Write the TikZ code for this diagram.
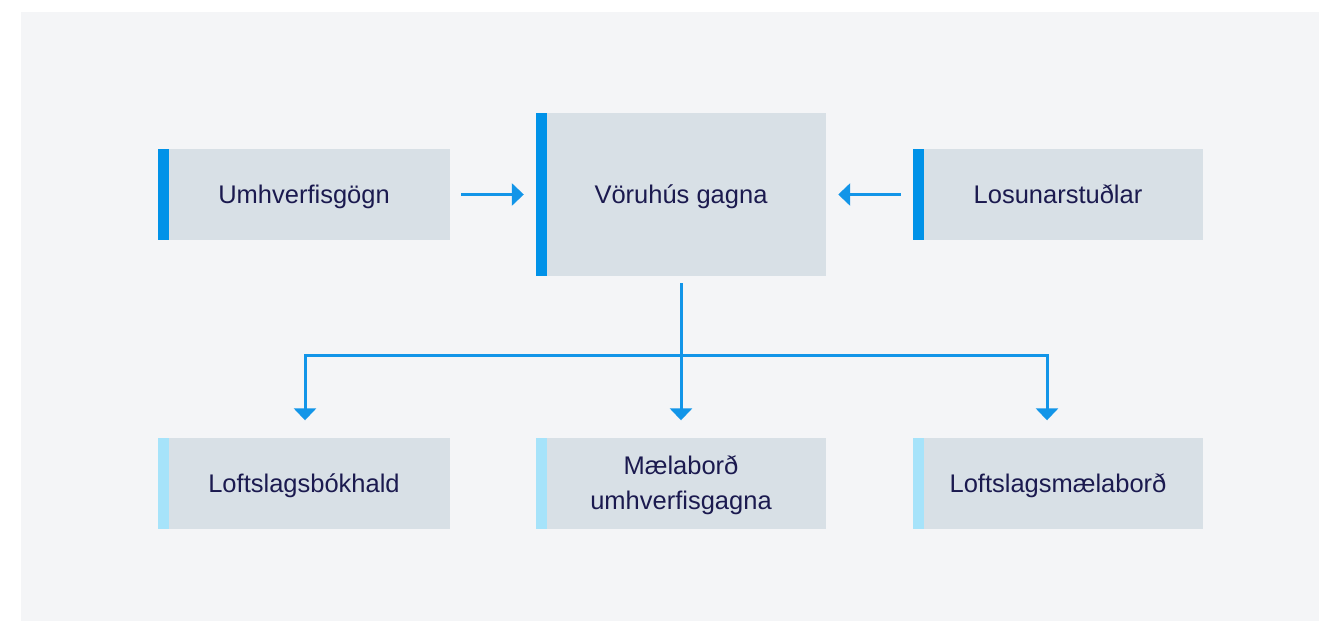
\documentclass[tikz,border=0pt]{standalone}
\usepackage{fontspec}
\setmainfont{Liberation Sans}
\usetikzlibrary{arrows.meta}
\definecolor{bgcol}{HTML}{F4F5F7}
\definecolor{boxcol}{HTML}{D8E0E6}
\definecolor{barblue}{HTML}{0092E8}
\definecolor{barlight}{HTML}{A6E3FA}
\definecolor{linecol}{HTML}{1295E8}
\definecolor{txtcol}{HTML}{1B1A4F}
\tikzset{
  box/.style={fill=boxcol, inner sep=0pt, minimum width=#1, text=txtcol, align=center,
    text height=18pt, text depth=0pt,
    font=\fontsize{25.5}{35}\selectfont},
  box/.default=290pt,
  topbar/.style={path picture={\fill[barblue] (path picture bounding box.north west) rectangle ([xshift=10.5pt]path picture bounding box.south west);}},
  lowbar/.style={path picture={\fill[barlight] (path picture bounding box.north west) rectangle ([xshift=10.5pt]path picture bounding box.south west);}},
  conn/.style={draw=linecol, line width=3pt, line join=miter},
  arr/.style={conn, -{Triangle[length=12pt,width=22pt]}},
}
\begin{document}
\begin{tikzpicture}[x=1pt,y=-1pt]
\useasboundingbox (0,0) rectangle (1319,621);
\fill[bgcol] (21,12) rectangle (1319,621);
% top row
\node[box=292pt, topbar, minimum height=91pt] (l) at (304,194.5) {Umhverfisgögn};
\node[box=290pt, topbar, minimum height=163pt] (c) at (681,194.5) {Vöruhús gagna};
\node[box=290pt, topbar, minimum height=91pt] (r) at (1058,194.5) {Losunarstuðlar};
% bottom row
\node[box=292pt, lowbar, minimum height=91pt] (b1) at (304,483.5) {Loftslagsbókhald};
\node[box=290pt, lowbar, minimum height=91pt, text height=52pt] (b2) at (681,483.5) {Mælaborð\\umhverfisgagna};
\node[box=290pt, lowbar, minimum height=91pt] (b3) at (1058,483.5) {Loftslagsmælaborð};
% connectors
\draw[arr] ([xshift=11pt]l.east) -- ([xshift=-12pt]c.west);
\draw[arr] ([xshift=-12pt]r.west) -- ([xshift=12pt]c.east);
\coordinate (jm) at (681,355);
\coordinate (jl) at (305,355);
\coordinate (jr) at (1047,355);
\coordinate (t1) at ([yshift=17.5pt]b1.north);
\coordinate (t2) at ([yshift=17.5pt]b2.north);
\coordinate (t3) at ([yshift=17.5pt]b3.north);
\draw[conn] ([yshift=-7pt]c.south) -- (jm);
\draw[arr] (jm) -- (jm |- t2);
\draw[arr] (jm) -- (jl) -- (jl |- t1);
\draw[arr] (jm) -- (jr) -- (jr |- t3);
\end{tikzpicture}
\end{document}
